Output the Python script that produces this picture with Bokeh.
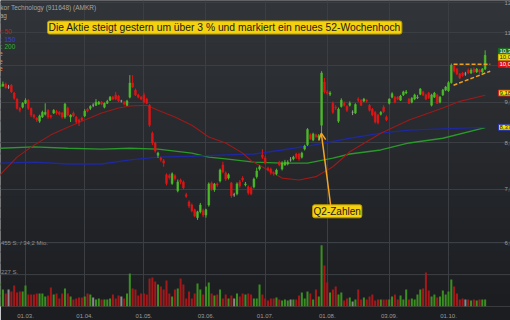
from bokeh.plotting import figure
from bokeh.models import (Range1d, LinearScale, FixedTicker, Span, Label,
                          BoxAnnotation, Arrow, OpenHead)
from bokeh.embed import file_html
from bokeh.resources import INLINE

# ---------------- data ----------------
opens = [9.40, 9.43, 9.48, 9.40, 9.45, 9.24, 9.08, 8.84, 8.87, 8.97,
         9.05, 8.84, 8.67, 8.60, 8.52, 8.62, 8.69, 8.79, 8.66, 8.72,
         8.76, 8.74, 8.72, 8.62, 8.85, 8.62, 8.72, 8.62, 8.55, 8.60,
         8.65, 8.82, 8.84, 8.92, 8.92, 8.95, 9.00, 8.87, 8.97, 9.05,
         9.13, 9.19, 9.16, 9.03, 9.00, 8.92, 9.13, 9.51, 9.32, 9.19,
         9.13, 9.19, 9.08, 8.92, 8.23, 8.00, 7.72, 7.66, 7.60, 7.30,
         7.28, 7.12, 7.28, 6.97, 7.19, 7.15, 6.89, 6.75, 6.69, 6.60,
         6.45, 6.56, 6.58, 6.50, 6.69, 7.13, 6.99, 7.11, 7.17, 7.51,
         7.34, 7.23, 7.13, 6.89, 6.91, 7.15, 7.23, 7.09, 7.05, 7.03,
         7.05, 7.26, 7.42, 7.73, 7.66, 7.44, 7.42, 7.34, 7.32, 7.57,
         7.42, 7.51, 7.53, 7.62, 7.64, 7.75, 7.75, 7.68, 7.86, 7.96,
         8.19, 8.07, 8.19, 8.13, 8.42, 9.54, 9.27, 9.21, 8.97, 8.87,
         8.52, 8.89, 8.97, 8.89, 8.92, 8.74, 8.72, 9.08, 9.05, 9.03,
         9.05, 8.92, 8.82, 8.74, 8.67, 8.69, 8.87, 8.62, 8.97, 9.13,
         9.13, 9.13, 9.05, 9.19, 9.24, 9.08, 9.00, 9.08, 9.11, 9.21,
         9.27, 9.19, 9.24, 8.92, 9.13, 9.19, 9.00, 9.19, 9.32, 9.30,
         9.52, 9.98, 9.90, 9.76, 9.79, 9.76, 9.87, 9.79, 9.90, 9.82,
         9.87, 9.82, 9.90]
highs = [9.52, 9.55, 9.52, 9.46, 9.48, 9.27, 9.10, 8.87, 9.00, 9.10,
         9.08, 8.86, 8.70, 8.62, 8.68, 8.78, 8.97, 8.82, 8.68, 8.82,
         8.80, 8.77, 8.75, 8.98, 8.88, 8.69, 8.76, 8.65, 8.58, 8.63,
         8.82, 8.85, 8.92, 8.97, 9.08, 9.03, 9.03, 8.99, 9.06, 9.16,
         9.16, 9.27, 9.19, 9.06, 9.03, 9.06, 9.73, 9.73, 9.36, 9.22,
         9.16, 9.25, 9.11, 8.95, 8.27, 8.03, 7.80, 7.69, 7.64, 7.33,
         7.32, 7.35, 7.31, 7.20, 7.22, 7.18, 6.93, 6.78, 6.72, 6.62,
         6.58, 6.73, 6.62, 6.62, 7.14, 7.16, 7.13, 7.14, 7.43, 7.58,
         7.37, 7.33, 7.15, 6.93, 7.14, 7.19, 7.27, 7.15, 7.08, 7.06,
         7.24, 7.45, 7.50, 7.86, 7.70, 7.47, 7.45, 7.37, 7.43, 7.60,
         7.59, 7.62, 7.61, 7.68, 7.71, 7.78, 7.78, 7.80, 7.96, 8.35,
         8.23, 8.24, 8.22, 8.21, 9.84, 9.65, 9.32, 9.29, 9.02, 8.92,
         8.86, 9.10, 9.02, 8.92, 9.02, 8.79, 8.97, 9.13, 9.08, 9.11,
         9.08, 8.95, 8.85, 8.77, 8.70, 8.77, 8.92, 8.66, 9.10, 9.26,
         9.16, 9.16, 9.19, 9.30, 9.32, 9.11, 9.13, 9.22, 9.19, 9.37,
         9.30, 9.22, 9.27, 9.22, 9.27, 9.22, 9.16, 9.35, 9.43, 9.56,
         10.06, 10.04, 9.93, 9.79, 9.82, 9.82, 9.92, 9.92, 9.95, 9.93,
         9.90, 9.93, 10.45]
lows = [9.35, 9.40, 9.36, 9.35, 9.24, 9.06, 8.81, 8.74, 8.84, 8.95,
        8.80, 8.62, 8.58, 8.50, 8.48, 8.60, 8.66, 8.58, 8.58, 8.70,
        8.68, 8.66, 8.58, 8.58, 8.64, 8.50, 8.62, 8.46, 8.40, 8.52,
        8.62, 8.74, 8.80, 8.87, 8.90, 8.93, 8.92, 8.84, 8.95, 9.03,
        9.05, 9.05, 9.00, 8.99, 8.92, 8.90, 9.10, 9.38, 9.16, 9.10,
        9.05, 8.97, 8.95, 8.38, 7.95, 7.78, 7.66, 7.58, 7.47, 7.08,
        7.20, 7.09, 7.18, 6.94, 7.10, 7.00, 6.83, 6.63, 6.55, 6.46,
        6.41, 6.53, 6.46, 6.45, 6.66, 6.97, 6.95, 7.05, 7.14, 7.33,
        7.17, 7.20, 6.83, 6.85, 6.88, 7.03, 7.15, 7.06, 6.89, 6.88,
        7.02, 7.22, 7.39, 7.64, 7.52, 7.37, 7.30, 7.28, 7.29, 7.48,
        7.39, 7.49, 7.50, 7.58, 7.61, 7.64, 7.60, 7.65, 7.83, 7.93,
        8.07, 8.04, 8.12, 8.08, 8.23, 9.22, 9.19, 9.16, 8.70, 8.80,
        8.48, 8.86, 8.89, 8.75, 8.89, 8.67, 8.70, 9.00, 8.90, 9.00,
        8.99, 8.76, 8.64, 8.46, 8.44, 8.66, 8.72, 8.52, 8.94, 9.10,
        8.97, 9.05, 9.03, 9.16, 9.21, 8.95, 8.97, 9.05, 9.08, 9.18,
        9.16, 9.05, 9.08, 8.89, 9.11, 8.95, 8.97, 9.16, 9.29, 9.27,
        9.49, 9.80, 9.73, 9.62, 9.68, 9.71, 9.76, 9.76, 9.79, 9.79,
        9.76, 9.79, 9.87]
closes = [9.45, 9.48, 9.38, 9.40, 9.27, 9.10, 8.84, 8.79, 8.97, 9.05,
          8.84, 8.67, 8.62, 8.55, 8.65, 8.74, 8.74, 8.62, 8.62, 8.79,
          8.72, 8.69, 8.62, 8.95, 8.67, 8.67, 8.65, 8.50, 8.50, 8.55,
          8.77, 8.77, 8.89, 8.92, 9.00, 9.00, 8.95, 8.97, 9.02, 9.13,
          9.08, 9.08, 9.03, 9.03, 8.95, 9.03, 9.51, 9.40, 9.19, 9.13,
          9.08, 9.00, 8.97, 8.42, 8.00, 7.82, 7.77, 7.62, 7.55, 7.12,
          7.24, 7.32, 7.22, 7.15, 7.15, 7.03, 6.86, 6.67, 6.58, 6.48,
          6.56, 6.69, 6.50, 6.60, 7.11, 7.01, 7.11, 7.09, 7.40, 7.36,
          7.21, 7.30, 6.87, 6.89, 7.11, 7.07, 7.19, 7.11, 6.93, 6.91,
          7.21, 7.38, 7.47, 7.68, 7.55, 7.40, 7.34, 7.32, 7.40, 7.51,
          7.55, 7.57, 7.57, 7.62, 7.68, 7.68, 7.64, 7.77, 7.93, 8.32,
          8.10, 8.21, 8.15, 8.17, 9.79, 9.27, 9.24, 9.24, 8.74, 8.85,
          8.82, 9.05, 8.92, 8.79, 8.97, 8.74, 8.94, 9.05, 8.92, 9.08,
          9.03, 8.79, 8.67, 8.50, 8.48, 8.74, 8.76, 8.55, 9.08, 9.22,
          9.00, 9.08, 9.16, 9.27, 9.27, 8.97, 9.10, 9.19, 9.13, 9.35,
          9.19, 9.08, 9.11, 9.19, 9.24, 8.97, 9.13, 9.32, 9.40, 9.52,
          10.01, 9.84, 9.76, 9.65, 9.71, 9.76, 9.79, 9.87, 9.82, 9.90,
          9.82, 9.90, 10.30]
volumes = [1750, 1190, 910, 1190, 1050, 1470, 980, 1050, 1050, 1470,
           840, 840, 840, 910, 910, 910, 700, 770, 1330, 840,
           910, 560, 910, 1260, 910, 700, 490, 560, 630, 630,
           700, 910, 840, 630, 490, 560, 490, 490, 490, 560,
           840, 560, 770, 700, 560, 910, 2310, 1260, 1190, 770,
           910, 910, 840, 1960, 2030, 1750, 1540, 1400, 1190, 1820,
           910, 700, 1190, 1260, 1960, 1540, 560, 1050, 560, 910,
           1610, 1190, 840, 1400, 1680, 910, 770, 840, 1190, 560,
           840, 560, 770, 560, 910, 700, 910, 840, 910, 840,
           560, 560, 1540, 840, 560, 420, 560, 560, 630, 490,
           420, 490, 420, 490, 490, 490, 770, 980, 560, 1050,
           910, 490, 1190, 700, 4270, 2870, 1680, 980, 1190, 1400,
           840, 980, 420, 560, 630, 350, 490, 1190, 490, 630,
           490, 700, 840, 420, 490, 490, 490, 490, 490, 700,
           840, 490, 770, 490, 1190, 490, 560, 490, 840, 1190,
           1260, 2380, 1120, 700, 840, 630, 700, 1120, 840, 1050,
           1890, 1400, 910, 490, 560, 490, 490, 420, 490, 420,
           490, 490, 490]

tick_pos = [9, 30, 51, 73, 94, 116, 138, 159]
tick_labels = ["01.03.", "01.04.", "01.05.", "03.06.", "01.07.", "01.08.", "03.09.", "01.10."]
price_ticks = [6, 7, 8, 9, 10, 11, 12]
price_tick_labels = ["6,00", "7,00", "8,00", "9,00", "10,00", "11,00", "12,00"]

ma50_x = [0, 6, 12, 18, 24, 30, 36, 42, 46, 52, 56, 62, 68, 74, 80, 86, 89, 95,
          100, 106, 112, 118, 124, 135, 145, 157, 163, 172]
ma50_y = [7.30, 7.68, 7.95, 8.19, 8.37, 8.55, 8.72, 8.85, 8.90, 8.92, 8.79, 8.62,
          8.42, 8.14, 8.00, 7.77, 7.60, 7.40, 7.23, 7.19, 7.26, 7.47, 7.80, 8.23,
          8.55, 8.85, 9.02, 9.18]
ma150_x = [0, 12, 24, 36, 46, 56, 68, 80, 90, 100, 112, 124, 135, 145, 157, 172]
ma150_y = [7.55, 7.57, 7.53, 7.53, 7.62, 7.68, 7.70, 7.73, 7.75, 7.84, 7.96, 8.11,
           8.23, 8.30, 8.33, 8.37]
ma200_x = [0, 12, 24, 36, 46, 56, 68, 74, 80, 90, 100, 109, 118, 124, 135, 145, 157, 172]
ma200_y = [7.88, 7.91, 7.88, 7.86, 7.88, 7.86, 7.77, 7.68, 7.64, 7.57, 7.55, 7.55,
           7.66, 7.75, 7.84, 8.00, 8.11, 8.36]

trend_x = [160.8, 173.8]
resistance_y = [10.04, 10.04]
support_y = [9.45, 9.84]

vol_grid = [2227, 4455]
vol_grid_labels = ["2.227 S.", "4.455 S. / 34,2 Mio."]

last_labels = ["10,30", "10,04", "10,00", "9,18", "8,37"]
last_label_y = [10.42, 10.24, 10.04, 9.24, 8.37]

headline = "Die Aktie steigt gestern um über 3 % und markiert ein neues 52-Wochenhoch"
title = "Amkor Technology (911648) (AMKR)"

# ---------------- styling ----------------
FONT = "Liberation Sans"
UP, DN, NEU = "#4cbb2a", "#e01515", "#9a9a9a"
VUP, VDN, VNEU = "#3b8e20", "#a3191b", "#8a8a8a"

n = len(closes)
idx = list(range(n))
candle_col = [UP if c > o else (DN if c < o else NEU) for o, c in zip(opens, closes)]
vol_col = [VUP if c > o else (VDN if c < o else VNEU) for o, c in zip(opens, closes)]
body_top = [max(o, c) for o, c in zip(opens, closes)]
body_bot = [min(o, c) for o, c in zip(opens, closes)]

AXIS_X = 175.7   # where the price scale sits (just right of the last candles)

p = figure(width=510, height=320, x_range=Range1d(0.14, 180.99),
           y_range=Range1d(4.993, 12.064), y_axis_type="log",
           y_axis_location="right", output_backend="svg", toolbar_location=None,
           min_border_left=0, min_border_top=0, min_border_right=0,
           min_border_bottom=13)
p.extra_y_ranges = {"vol": Range1d(0, 21370), "bg": Range1d(0, 1)}
p.extra_y_scales = {"vol": LinearScale(), "bg": LinearScale()}
p.outline_line_color = None
p.background_fill_color = "#26292d"
p.border_fill_color = "#1b1d21"

# background gradient
nb = 28
top_c = (0x31, 0x34, 0x38)
bot_c = (0x1b, 0x1d, 0x21)
for k in range(nb):
    t = (k + 0.5) / nb
    col = tuple(int(round(top_c[j] + (bot_c[j] - top_c[j]) * t)) for j in range(3))
    p.add_layout(BoxAnnotation(top=1 - k / nb + 0.003, bottom=1 - (k + 1) / nb - 0.003,
                               y_range_name="bg", fill_color="#%02x%02x%02x" % col,
                               fill_alpha=1, line_color=None, level="image"))

# axes & grids
p.xaxis.ticker = FixedTicker(ticks=tick_pos)
p.xaxis.major_label_overrides = dict(zip(tick_pos, tick_labels))
p.yaxis.ticker = FixedTicker(ticks=price_ticks)
p.yaxis.major_label_overrides = dict(zip(price_ticks, price_tick_labels))
p.yaxis.fixed_location = AXIS_X
for ax in (p.xaxis[0], p.yaxis[0]):
    ax.axis_line_color = None
    ax.major_tick_line_color = None
    ax.minor_tick_line_color = None
    ax.major_label_text_color = "#9c9c9c"
    ax.major_label_text_font = FONT
    ax.major_label_text_font_size = "6px"
    ax.major_label_standoff = 3
p.xaxis.major_label_standoff = 1
p.xgrid.ticker = FixedTicker(ticks=tick_pos)
p.ygrid.ticker = FixedTicker(ticks=price_ticks)
p.grid.grid_line_color = "#3b3e43"
p.grid.grid_line_width = 1

# volume
for v in vol_grid:
    p.add_layout(Span(location=v, dimension="width", y_range_name="vol",
                      line_color="#3d4046", line_width=1, level="underlay"))
p.vbar(x=idx, top=volumes, bottom=0, width=0.72, fill_color=vol_col,
       line_color=None, y_range_name="vol")
p.add_layout(Label(x=-1.5, y=vol_grid[1], y_range_name="vol", text=vol_grid_labels[1],
                   text_font=FONT, text_font_size="6px", text_color="#8d8d8d",
                   text_baseline="middle"))
p.add_layout(Label(x=-1.5, y=vol_grid[0], y_range_name="vol", text=vol_grid_labels[0],
                   text_font=FONT, text_font_size="6px", text_color="#8d8d8d",
                   text_baseline="bottom"))

# moving averages
p.line(ma200_x, ma200_y, line_color="#2a982a", line_width=1.3)
p.line(ma150_x, ma150_y, line_color="#1e28a0", line_width=1.3)
p.line(ma50_x, ma50_y, line_color="#9c1a1a", line_width=1.1)

# candles
p.segment(x0=idx, y0=lows, x1=idx, y1=highs, line_color=candle_col, line_width=1)
p.vbar(x=idx, top=body_top, bottom=body_bot, width=0.6, fill_color=candle_col,
       line_color=candle_col, line_width=0.6)

# trend lines
p.line(trend_x, resistance_y, line_color="#f0a020", line_dash="4 2", line_width=1.5)
p.line(trend_x, support_y, line_color="#f0a020", line_dash="4 2", line_width=1.5)

# annotations
p.add_layout(Label(x=16.8, y=11.16, text=headline, text_font=FONT,
                   text_font_size="10.3px", text_color="#1a1a1a", text_baseline="middle",
                   background_fill_color="#f5d20f", border_line_color="#b99a00",
                   padding=1, border_radius=2))
p.add_layout(Label(x=110.8, y=6.57, text="Q2-Zahlen", text_font=FONT,
                   text_font_size="10px", text_color="#1a1a1a", text_baseline="middle",
                   background_fill_color="#f5d20f", border_line_color="#b99a00",
                   padding=1, border_radius=2))
p.add_layout(Arrow(end=OpenHead(size=7, line_color="#f5a623", line_width=1.5),
                   x_start=117.2, y_start=6.69, x_end=113.9, y_end=8.23,
                   line_color="#f5a623", line_width=1.5))

p.add_layout(Label(x=-3.4, y=11.82, text=title, text_font=FONT, text_font_size="6.5px",
                   text_color="#a5a5a5", text_baseline="middle"))
p.add_layout(Label(x=-1.3, y=11.55, text="Tag", text_font=FONT, text_font_size="6.5px",
                   text_color="#a5a5a5", text_baseline="middle"))
for txt, yy, cc in (("GD: 50", 11.04, "#c42020"), ("GD: 150", 10.78, "#3a44d8"),
                    ("GD: 200", 10.57, "#35b035")):
    p.add_layout(Label(x=-3.2, y=yy, text=txt, text_font=FONT, text_font_size="6.5px",
                       text_color=cc, text_baseline="middle"))
for yy in (10.36, 10.12, 9.92):
    p.add_layout(Label(x=0.85, y=yy, text="Linie", text_font=FONT, text_font_size="6.5px",
                       text_color="#e09a20", text_baseline="middle", text_align="right"))

box_styles = [("#1d6b1f", "#1d6b1f", "#ffffff"), ("#f2e205", "#c8b800", "#222222"),
              ("#d81010", "#d81010", "#ffffff"), ("#f2e205", "#d02020", "#222222"),
              ("#f2e205", "#2030c0", "#222222")]
for txt, yy, (bg, bd, tc) in zip(last_labels, last_label_y, box_styles):
    p.add_layout(Label(x=AXIS_X + 1.0, y=yy, text=txt, text_font=FONT, text_font_size="6px",
                       text_color=tc, text_baseline="middle", background_fill_color=bg,
                       border_line_color=bd, padding=1))

open("out.html", "w").write(file_html(p, INLINE))
